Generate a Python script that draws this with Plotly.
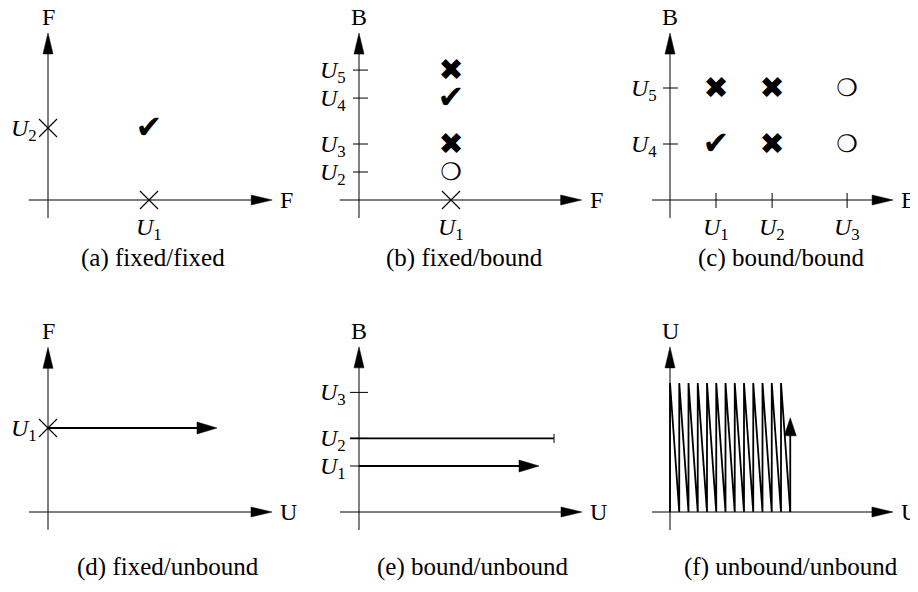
import plotly.graph_objects as go

W, H = 918, 592          # reference canvas
OFF = 8                  # page body margin
WF, HF = W - OFF, H - OFF
SERIF = "Liberation Serif"
FS = 24
CAP_FS = 25
SYM = "DejaVu Sans"

# ---------------- chart values ----------------
# (a) fixed/fixed
a_x_ticks = [1.0]; a_x_labels = ["U1"]
a_y_ticks = [1.0]; a_y_labels = ["U2"]
a_thin_x = [1.0, 0.0]; a_thin_y = [0.0, 1.0]
a_check_x = [1.0]; a_check_y = [1.0]

# (b) fixed/bound
b_x_ticks = [1.0]; b_x_labels = ["U1"]
b_y_ticks = [1.0, 2.0, 3.64, 4.64]; b_y_labels = ["U2", "U3", "U4", "U5"]
b_thin_x = [1.0]; b_thin_y = [0.0]
b_heavy_x = [1.0, 1.0]; b_heavy_y = [2.0, 4.64]
b_check_x = [1.0]; b_check_y = [3.64]
b_circle_x = [1.0]; b_circle_y = [1.0]

# (c) bound/bound
c_x_ticks = [1.0, 2.22, 3.85]; c_x_labels = ["U1", "U2", "U3"]
c_y_ticks = [1.0, 2.0]; c_y_labels = ["U4", "U5"]
c_heavy_x = [1.0, 2.22, 2.22]; c_heavy_y = [2.0, 2.0, 1.0]
c_check_x = [1.0]; c_check_y = [1.0]
c_circle_x = [3.85, 3.85]; c_circle_y = [2.0, 1.0]

# (d) fixed/unbound
d_y_ticks = [1.0]; d_y_labels = ["U1"]
d_thin_x = [0.0]; d_thin_y = [1.0]
d_arrow_x = [0.0, 1.69]; d_arrow_y = [1.0, 1.0]

# (e) bound/unbound
e_y_ticks = [1.0, 1.6, 2.6]; e_y_labels = ["U1", "U2", "U3"]
e_arrow_x = [0.0, 1.8]; e_arrow_y = [1.0, 1.0]
e_bar_x = [-0.09, 1.95]; e_bar_y = [1.6, 1.6]

# (f) unbound/unbound
f_zig_x = [0, 0, 1, 1, 2, 2, 3, 3, 4, 4, 5, 5, 6, 6, 7, 7, 8, 8, 9, 9, 10, 10, 11, 11, 12, 12, 13]
f_zig_y = [0, 1, 0, 1, 0, 1, 0, 1, 0, 1, 0, 1, 0, 1, 0, 1, 0, 1, 0, 1, 0, 1, 0, 1, 0, 1, 0]
f_arrow_x = [13, 13]; f_arrow_y = [0.0, 0.73]

captions = ["(a) fixed/fixed", "(b) fixed/bound", "(c) bound/bound",
            "(d) fixed/unbound", "(e) bound/unbound", "(f) unbound/unbound"]
axis_names = {"a": ("F", "F"), "b": ("F", "B"), "c": ("B", "B"),
              "d": ("U", "F"), "e": ("U", "B"), "f": ("U", "U")}

# ---------------- layout geometry (reference pixels) ----------------
GEOM = {
    "a": dict(origin=(48, 200), scale=(101, 72), box=(8, 305, 8, 296), xext=(-0.19, 2.22), yext=(-0.25, 2.32)),
    "b": dict(origin=(359, 200), scale=(92, 28), box=(305, 612, 8, 296), xext=(-0.21, 2.42), yext=(-0.64, 5.96)),
    "c": dict(origin=(670, 200), scale=(46, 56), box=(612, 918, 8, 296), xext=(-0.39, 4.85), yext=(-0.32, 2.98)),
    "d": dict(origin=(48, 512), scale=(100, 84), box=(8, 305, 296, 592), xext=(-0.19, 2.24), yext=(-0.21, 1.96)),
    "e": dict(origin=(359, 512), scale=(100, 46), box=(305, 612, 296, 592), xext=(-0.19, 2.23), yext=(-0.39, 3.59)),
    "f": dict(origin=(670, 512), scale=(9.25, 129), box=(612, 918, 296, 592), xext=(-1.95, 24.1), yext=(-0.14, 1.28)),
}
CAPTION_POS = {"a": (153, 258), "b": (464, 258), "c": (781, 258),
               "d": (168, 567), "e": (473, 567), "f": (791, 567)}
PANELS = ["a", "b", "c", "d", "e", "f"]

fig = go.Figure()
shapes = []
annotations = []


def refs(p):
    i = PANELS.index(p) + 1
    s = "" if i == 1 else str(i)
    return "x" + s, "y" + s


def fmt(lbl):
    return "<i>%s</i><sub>%s</sub>" % (lbl[0], lbl[1:])


def line(p, x0, y0, x1, y1, width=1.0):
    xr, yr = refs(p)
    shapes.append(dict(type="line", xref=xr, yref=yr, x0=x0, y0=y0, x1=x1, y1=y1,
                       line=dict(color="black", width=width)))


def head(p, x, y, direction, length=21, half=5):
    xr, yr = refs(p)
    if direction == "right":
        path = "M0,0 L-%g,%g L-%g,-%g Z" % (length, half, length, half)
    else:
        path = "M0,0 L-%g,-%g L%g,-%g Z" % (half, length, half, length)
    shapes.append(dict(type="path", xref=xr, yref=yr, xsizemode="pixel", ysizemode="pixel",
                       xanchor=x, yanchor=y, path=path, fillcolor="black",
                       line=dict(color="black", width=0.5)))


def ytick(p, y, lo=-7, hi=8):
    xr, yr = refs(p)
    shapes.append(dict(type="line", xref=xr, yref=yr, xsizemode="pixel", xanchor=0,
                       x0=lo, x1=hi, y0=y, y1=y, line=dict(color="black", width=1)))


def xtick(p, x, lo=-8, hi=7):
    xr, yr = refs(p)
    shapes.append(dict(type="line", xref=xr, yref=yr, ysizemode="pixel", yanchor=0,
                       y0=lo, y1=hi, x0=x, x1=x, line=dict(color="black", width=1)))


def text(p, x, y, t, **kw):
    xr, yr = refs(p)
    d = dict(xref=xr, yref=yr, x=x, y=y, text=t, showarrow=False,
             font=dict(family=SERIF, size=FS, color="black"))
    d.update(kw)
    annotations.append(d)


def ylabels(p, vals, labels, shift=-11):
    for v, l in zip(vals, labels):
        text(p, 0, v, fmt(l), xanchor="right", yanchor="middle", xshift=shift, yshift=-2)


def xlabels(p, vals, labels):
    for v, l in zip(vals, labels):
        text(p, v, 0, fmt(l), xanchor="center", yanchor="top", yshift=-12)


def symbols(p, xs, ys, glyph, size, dy=-2):
    xr, yr = refs(p)
    # small downward offset in pixels converted to data units of the panel
    sy = GEOM[p]["scale"][1]
    fig.add_trace(go.Scatter(x=xs, y=[v + dy / sy for v in ys], mode="text", text=[glyph] * len(xs),
                             textposition="middle center",
                             textfont=dict(family=SYM, size=size, color="black"),
                             xaxis=xr, yaxis=yr, hoverinfo="skip", cliponaxis=False))


def thin(p, xs, ys):
    xr, yr = refs(p)
    fig.add_trace(go.Scatter(x=xs, y=ys, mode="markers",
                             marker=dict(symbol="x-thin-open", size=18, color="black",
                                         line=dict(color="black", width=1.1)),
                             xaxis=xr, yaxis=yr, hoverinfo="skip", cliponaxis=False))


def polyline(p, xs, ys, width=1.8):
    xr, yr = refs(p)
    fig.add_trace(go.Scatter(x=xs, y=ys, mode="lines", line=dict(color="black", width=width),
                             xaxis=xr, yaxis=yr, hoverinfo="skip", cliponaxis=False))


# axes, axis names, captions and subplot scales
layout_axes = {}
for i, p in enumerate(PANELS, start=1):
    g = GEOM[p]
    (ox, oy), (sx, sy), (bx0, bx1, by0, by1) = g["origin"], g["scale"], g["box"]
    s = "" if i == 1 else str(i)
    layout_axes["xaxis" + s] = dict(domain=[(bx0 - OFF) / WF, (bx1 - OFF) / WF],
                                    range=[(bx0 - ox) / sx, (bx1 - ox) / sx],
                                    visible=False, fixedrange=True, anchor="y" + s)
    layout_axes["yaxis" + s] = dict(domain=[1 - (by1 - OFF) / HF, 1 - (by0 - OFF) / HF],
                                    range=[(oy - by1) / sy, (oy - by0) / sy],
                                    visible=False, fixedrange=True, anchor="x" + s)
    xe, ye = g["xext"], g["yext"]
    line(p, xe[0], 0, xe[1] - 0.5 * 21 / sx, 0)
    head(p, xe[1], 0, "right")
    line(p, 0, ye[0], 0, ye[1] - 0.5 * 21 / sy)
    head(p, 0, ye[1], "up")
    xname, yname = axis_names[p]
    text(p, xe[1], 0, xname, xanchor="left", yanchor="middle", xshift=6)
    text(p, 0, ye[1], yname, xanchor="center", yanchor="bottom", yshift=1)
    cx, cy = CAPTION_POS[p]
    annotations.append(dict(xref="paper", yref="paper", x=(cx - OFF) / WF, y=1 - (cy - OFF) / HF,
                            text=captions[i - 1], showarrow=False, xanchor="center", yanchor="middle",
                            font=dict(family=SERIF, size=CAP_FS, color="black")))

# (a)
thin("a", a_thin_x, a_thin_y)
symbols("a", a_check_x, a_check_y, "✔", 32)
xlabels("a", a_x_ticks, a_x_labels)
ylabels("a", a_y_ticks, a_y_labels, shift=-9)

# (b)
for v in b_y_ticks:
    ytick("b", v, -6, 9)
ylabels("b", b_y_ticks, b_y_labels)
thin("b", b_thin_x, b_thin_y)
symbols("b", b_heavy_x, b_heavy_y, "✖", 30)
symbols("b", b_check_x, b_check_y, "✔", 32)
symbols("b", b_circle_x, b_circle_y, "❍", 24)
xlabels("b", b_x_ticks, b_x_labels)

# (c)
for v in c_x_ticks:
    xtick("c", v)
for v in c_y_ticks:
    ytick("c", v)
xlabels("c", c_x_ticks, c_x_labels)
ylabels("c", c_y_ticks, c_y_labels)
symbols("c", c_heavy_x, c_heavy_y, "✖", 30)
symbols("c", c_check_x, c_check_y, "✔", 32)
symbols("c", c_circle_x, c_circle_y, "❍", 24)

# (d)
thin("d", d_thin_x, d_thin_y)
ylabels("d", d_y_ticks, d_y_labels, shift=-9)
polyline("d", d_arrow_x[:1] + [d_arrow_x[1] - 10 / 100], d_arrow_y)
head("d", d_arrow_x[1], d_arrow_y[1], "right", 20, 6)

# (e)
for v in e_y_ticks:
    ytick("e", v, -9, 9)
ylabels("e", e_y_ticks, e_y_labels)
polyline("e", e_arrow_x[:1] + [e_arrow_x[1] - 10 / 100], e_arrow_y)
head("e", e_arrow_x[1], e_arrow_y[1], "right", 20, 6)
polyline("e", e_bar_x, e_bar_y)
xr, yr = refs("e")
shapes.append(dict(type="line", xref=xr, yref=yr, ysizemode="pixel", yanchor=e_bar_y[1],
                   x0=e_bar_x[1], x1=e_bar_x[1], y0=-4.5, y1=4.5, line=dict(color="black", width=1)))

# (f)
polyline("f", f_zig_x, f_zig_y, 1.8)
polyline("f", f_arrow_x, [f_arrow_y[0], f_arrow_y[1] - 9 / 129], 1.8)
head("f", f_arrow_x[1], f_arrow_y[1], "up", 18, 6)

fig.update_layout(
    width=WF, height=HF, margin=dict(l=0, r=0, t=0, b=0),
    paper_bgcolor="white", plot_bgcolor="rgba(0,0,0,0)",
    showlegend=False, shapes=shapes, annotations=annotations,
    **layout_axes,
)
fig.write_html("out.html")
